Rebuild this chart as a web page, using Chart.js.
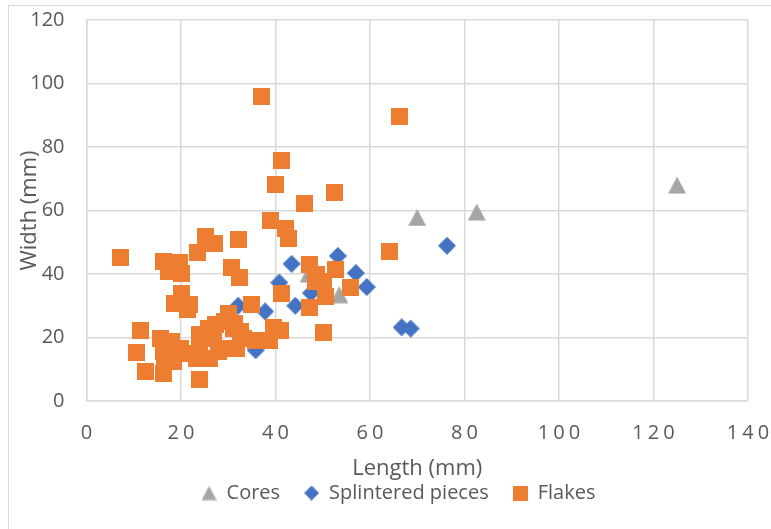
<!DOCTYPE html>
<html>
<head>
<meta charset="utf-8">
<script src="https://cdn.jsdelivr.net/npm/chart.js@4.4.1/dist/chart.umd.min.js"></script>
<style>
html,body{margin:0;padding:0;background:#fff}
#wrap{width:771px;height:529px;position:relative}
</style>
</head>
<body>
<div id="wrap"><canvas id="c" width="771" height="529"></canvas></div>
<script>
// ---- data ----
const seriesNames = ['Cores', 'Splintered pieces', 'Flakes'];
const xTickValues = [0, 20, 40, 60, 80, 100, 120, 140];
const yTickValues = [0, 20, 40, 60, 80, 100, 120];

const coresLength = [125, 82.6, 70, 53.5, 47];
const coresWidth  = [68, 59.5, 57.8, 33.5, 40];

const splinteredLength = [32.1, 37.8, 44.2, 43.4, 40.8, 47.5, 53.2, 57, 59.3, 76.3, 66.7, 68.6, 35.8];
const splinteredWidth  = [30, 28.2, 30, 43.2, 37.3, 34, 45.7, 40.3, 35.9, 48.9, 23.2, 22.8, 16];

const flakesLength = [
  11.4, 10.6, 12.4, 16.3, 15.6, 18.0, 16.3, 16.6, 18.4, 19.8, 20.5, 24.0, 23.3, 24.0, 24.0,
  25.8, 26.1, 27.2, 26.8, 27.9, 29.3, 30.0, 31.1, 31.4, 32.5, 31.8, 30.4, 33.2, 35.7, 38.8,
  39.5, 41.0, 50.2,
  20.1, 18.7, 21.8, 21.3, 35.0, 41.3, 47.3, 50.5, 48.4, 50.1, 48.7, 52.8, 47.2, 55.8,
  7.1, 16.3, 19.7, 17.3, 20.1, 23.4, 25.1, 27.0, 30.6, 32.4, 32.1, 39.0, 42.2, 42.7, 46.1,
  40.0, 52.4, 41.3, 37.1, 66.3, 64.2
];
const flakesWidth = [
  22.1, 15.2, 9.2, 8.6, 19.7, 18.7, 15.5, 12.3, 12.3, 16.6, 15.0, 6.7, 13.4, 18.7, 20.8,
  22.9, 13.4, 24.0, 19.7, 15.5, 25.0, 27.6, 22.9, 24.5, 21.8, 16.6, 16.6, 19.7, 19.2, 19.0,
  23.3, 22.3, 21.6,
  34.0, 30.8, 30.5, 28.7, 30.4, 34.0, 29.6, 32.9, 37.7, 37.7, 39.8, 41.4, 43.0, 35.6,
  45.3, 44.0, 43.5, 40.8, 40.3, 46.8, 51.9, 49.6, 42.1, 39.0, 50.9, 57.0, 54.2, 51.2, 62.2,
  68.2, 65.7, 75.8, 96.0, 89.7, 47.1
];

// ---- styles ----
const GRAY = '#A5A5A5', BLUE = '#4472C4', ORANGE = '#ED7D31';
const TEXT = '#595959', GRID = '#D9D9D9';
const FONT = "'Open Sans', 'Noto Sans', sans-serif";

function pairs(xs, ys) { return xs.map((x, i) => ({x: x, y: ys[i]})); }

function marker(shape, size, color) {
  const c = document.createElement('canvas');
  c.width = size; c.height = size;
  const g = c.getContext('2d');
  g.fillStyle = color;
  g.beginPath();
  if (shape === 'square') {
    g.rect(0, 0, size, size);
  } else if (shape === 'diamond') {
    g.moveTo(size / 2, 0); g.lineTo(size, size / 2); g.lineTo(size / 2, size); g.lineTo(0, size / 2);
  } else {
    g.moveTo(size / 2, 0.5); g.lineTo(size, size - 0.5); g.lineTo(0, size - 0.5);
  }
  g.closePath();
  g.fill();
  return c;
}

const pointImgs = [marker('triangle', 18, GRAY), marker('diamond', 18, BLUE), marker('square', 17, ORANGE)];
const legendImgs = [marker('triangle', 15, GRAY), marker('diamond', 15, BLUE), marker('square', 15, ORANGE)];
const colors = [GRAY, BLUE, ORANGE];

function noEdgePadding(s) { s.paddingTop = 0; s.paddingBottom = 0; s.paddingLeft = 0; s.paddingRight = 0; }

const frame = {
  id: 'frame',
  beforeDraw(chart) {
    const ctx = chart.ctx;
    ctx.save();
    ctx.fillStyle = '#fff';
    ctx.fillRect(0, 0, chart.width, chart.height);
    ctx.strokeStyle = GRID;
    ctx.lineWidth = 1;
    ctx.strokeRect(8.5, 5.5, 900, 700);
    ctx.restore();
  }
};

const tweaks = {
  id: 'tweaks',
  afterLayout(chart) {
    // centre the legend row where the reference has it
    const lg = chart.legend;
    if (lg) { lg.left = 2 * 398.5 - lg.right; lg.width = lg.right - lg.left; }
    const s = chart.scales.x;
    if (!s || s.__spaced) return;
    const orig = s.drawLabels;
    s.drawLabels = function (area) {
      const ctx = this.ctx;
      const prev = ctx.letterSpacing;
      ctx.letterSpacing = '4px';
      orig.call(this, area);
      ctx.letterSpacing = prev || '0px';
    };
    s.__spaced = true;
  }
};

new Chart(document.getElementById('c'), {
  type: 'scatter',
  data: {
    datasets: [
      {label: seriesNames[0], data: pairs(coresLength, coresWidth), pointStyle: pointImgs[0], pointRadius: 9,
       backgroundColor: GRAY, borderColor: GRAY, order: 3},
      {label: seriesNames[1], data: pairs(splinteredLength, splinteredWidth), pointStyle: pointImgs[1], pointRadius: 9,
       backgroundColor: BLUE, borderColor: BLUE, order: 2},
      {label: seriesNames[2], data: pairs(flakesLength, flakesWidth), pointStyle: pointImgs[2], pointRadius: 9,
       backgroundColor: ORANGE, borderColor: ORANGE, order: 1}
    ]
  },
  options: {
    responsive: false,
    animation: false,
    events: [],
    layout: {padding: {left: 0, right: 23, top: 20, bottom: 16}},
    scales: {
      x: {
        type: 'linear', min: 0, max: 140,
        afterBuildTicks: s => { s.ticks = xTickValues.map(v => ({value: v})); },
        afterFit: s => { s.height = 58; noEdgePadding(s); },
        grid: {color: GRID, lineWidth: 1.5, drawTicks: false},
        border: {color: GRID, width: 1.5},
        ticks: {color: TEXT, font: {family: FONT, size: 20}, padding: 20, labelOffset: 2, maxRotation: 0, autoSkip: false},
        title: {display: true, text: 'Length (mm)', color: TEXT, font: {family: FONT, size: 22}, padding: {top: 0, bottom: -23}}
      },
      y: {
        type: 'linear', min: 0, max: 120,
        afterBuildTicks: s => { s.ticks = yTickValues.map(v => ({value: v})); },
        afterFit: s => { s.width = 86.5; noEdgePadding(s); },
        grid: {color: GRID, lineWidth: 1.5, drawTicks: false},
        border: {color: GRID, width: 1.5},
        ticks: {color: TEXT, font: {family: FONT, size: 20}, padding: 22, autoSkip: false},
        title: {display: true, text: 'Width (mm)', color: TEXT, font: {family: FONT, size: 22}, padding: {top: 17, bottom: 0}}
      }
    },
    plugins: {
      tooltip: {enabled: false},
      legend: {
        position: 'bottom',
        labels: {
          usePointStyle: true,
          boxWidth: 15, boxHeight: 15,
          padding: 24,
          color: TEXT,
          font: {family: FONT, size: 20},
          generateLabels: chart => chart.data.datasets.map((ds, i) => ({
            text: ds.label, pointStyle: legendImgs[i], fillStyle: colors[i], strokeStyle: colors[i],
            lineWidth: 0, hidden: false, datasetIndex: i, fontColor: TEXT
          }))
        }
      }
    }
  },
  plugins: [frame, tweaks]
});
</script>
</body>
</html>
